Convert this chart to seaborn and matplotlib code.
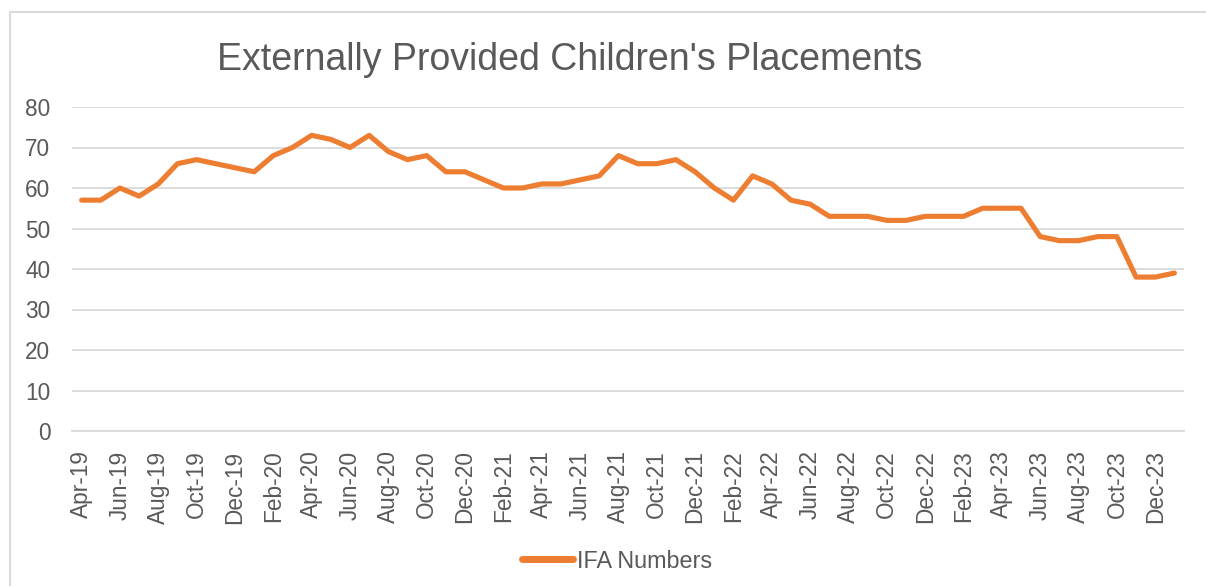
import numpy as np
import pandas as pd
import matplotlib
matplotlib.use("Agg")
import matplotlib.pyplot as plt
import seaborn as sns
from matplotlib.patches import Rectangle

months = ["Apr-19", "May-19", "Jun-19", "Jul-19", "Aug-19", "Sep-19", "Oct-19", "Nov-19", "Dec-19",
          "Jan-20", "Feb-20", "Mar-20", "Apr-20", "May-20", "Jun-20", "Jul-20", "Aug-20", "Sep-20",
          "Oct-20", "Nov-20", "Dec-20", "Jan-21", "Feb-21", "Mar-21", "Apr-21", "May-21", "Jun-21",
          "Jul-21", "Aug-21", "Sep-21", "Oct-21", "Nov-21", "Dec-21", "Jan-22", "Feb-22", "Mar-22",
          "Apr-22", "May-22", "Jun-22", "Jul-22", "Aug-22", "Sep-22", "Oct-22", "Nov-22", "Dec-22",
          "Jan-23", "Feb-23", "Mar-23", "Apr-23", "May-23", "Jun-23", "Jul-23", "Aug-23", "Sep-23",
          "Oct-23", "Nov-23", "Dec-23", "Jan-24"]
ifa_numbers = [57, 57, 60, 58, 61, 66, 67, 66, 65,
               64, 68, 70, 73, 72, 70, 73, 69, 67,
               68, 64, 64, 62, 60, 60, 61, 61, 62,
               63, 68, 66, 66, 67, 64, 60, 57, 63,
               61, 57, 56, 53, 53, 53, 52, 52, 53,
               53, 53, 55, 55, 55, 48, 47, 47, 48,
               48, 38, 38, 39]
series_name = "IFA Numbers"
title = "Externally Provided Children's Placements"
y_ticks = [0, 10, 20, 30, 40, 50, 60, 70, 80]

sns.set_theme(style="white")
plt.rcParams["font.family"] = ["Liberation Sans", "DejaVu Sans"]

text_color = "#595959"
grid_color = "#D9D9D9"
line_color = "#ED7D31"

W, H = 1206, 586
fig = plt.figure(figsize=(W / 100, H / 100), dpi=100)
fig.patch.set_facecolor("white")

# chart-area border
fig.patches.append(Rectangle((10 / W, -0.1), 1.2, 1 - 12 / H + 0.1, transform=fig.transFigure,
                             fill=False, edgecolor=grid_color, linewidth=1.5, zorder=0))

ax = fig.add_axes([72 / W, 1 - 431 / H, (1184 - 72) / W, (431 - 107) / H])

df = pd.DataFrame({"idx": np.arange(len(months)), "value": ifa_numbers})
sns.lineplot(data=df, x="idx", y="value", ax=ax, color=line_color, linewidth=3.7,
             label=series_name, solid_capstyle="round", solid_joinstyle="round")

ax.set_xlim(-0.5, len(months) - 0.5)
ax.set_ylim(0, 80)
ax.set_yticks(y_ticks)
ax.set_yticklabels([str(v) for v in y_ticks])
ax.set_xticks(np.arange(0, len(months), 2))
ax.set_xticklabels(months[::2], rotation=90)
ax.set_xticks(np.arange(-0.5, len(months), 2), minor=True)

ax.set_xlabel("")
ax.set_ylabel("")

ax.tick_params(axis="y", which="both", length=0, pad=15.5, labelsize=16.3, labelcolor=text_color)
ax.tick_params(axis="x", which="major", length=0, pad=14, labelsize=16.3, labelcolor=text_color)
ax.tick_params(axis="x", which="minor", length=6, width=1.3, color=grid_color, direction="out")

ax.yaxis.grid(True, color=grid_color, linewidth=1.3)
ax.xaxis.grid(False)
ax.set_axisbelow(True)
for side in ["top", "right", "left"]:
    ax.spines[side].set_visible(False)
ax.spines["bottom"].set_color(grid_color)
ax.spines["bottom"].set_linewidth(1.3)
ax.spines["bottom"].set_zorder(1)

fig.text(570 / W, 1 - 60 / H, title, ha="center", va="center", fontsize=27, color=text_color)

leg = ax.legend(loc="center", bbox_to_anchor=(617 / W, 1 - 561 / H), bbox_transform=fig.transFigure,
                frameon=False, fontsize=16.8, handlelength=2.2, handletextpad=0.15)
for t in leg.get_texts():
    t.set_color(text_color)
for l in leg.get_lines():
    l.set_linewidth(5)
    l.set_solid_capstyle("round")

fig.savefig("out.png", dpi=100)
